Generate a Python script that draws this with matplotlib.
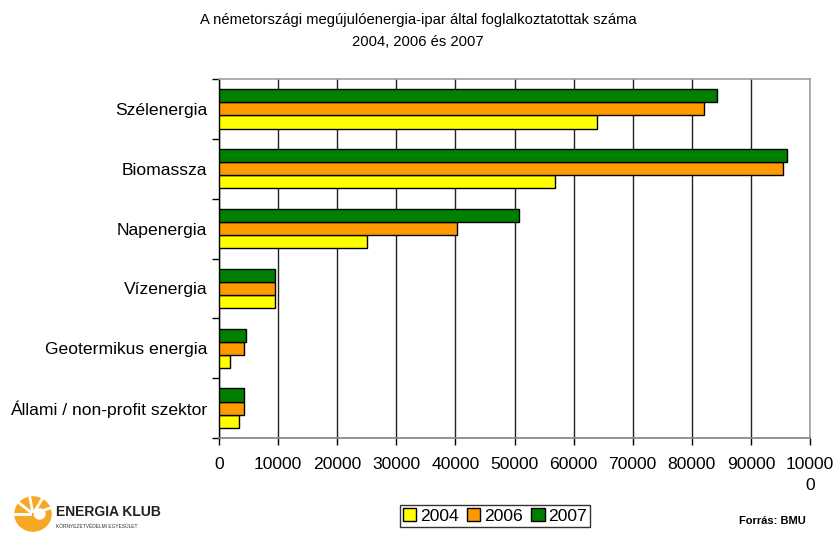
import matplotlib
matplotlib.use("Agg")
import matplotlib.pyplot as plt
import numpy as np
from matplotlib.patches import Circle

plt.rcParams['font.family'] = ['Liberation Sans', 'DejaVu Sans']

categories = ["Szélenergia", "Biomassza", "Napenergia", "Vízenergia",
              "Geotermikus energia", "Állami / non-profit szektor"]
v2004 = [63900, 56800, 25100, 9500, 1800, 3400]
v2006 = [82100, 95400, 40200, 9400, 4200, 4300]
v2007 = [84300, 96100, 50700, 9400, 4500, 4300]
xticks = list(range(0, 100001, 10000))
xticklabels = [str(t) for t in xticks[:-1]] + ["10000\n0"]
series = [("2004", v2004, "#FFFF00"), ("2006", v2006, "#FF9900"), ("2007", v2007, "#008000")]

fig = plt.figure(figsize=(8.36, 5.33), dpi=100)
ax = fig.add_axes([219/836, 1-438/533, (810-219)/836, (438-79)/533])

h = 0.22
y = np.arange(len(categories))
offsets = {"2004": h, "2006": 0.0, "2007": -h}
for name, vals, col in series:
    ax.barh(y + offsets[name], vals, height=h, color=col, edgecolor="black",
            linewidth=1.0, label=name, zorder=3)

ax.set_xlim(0, 100000)
ax.set_ylim(len(categories) - 0.5, -0.5)
ax.set_xticks(xticks)
ax.set_xticklabels(xticklabels, fontsize=12.6, linespacing=1.5)
ax.set_yticks(y)
ax.set_yticklabels(categories, fontsize=12.6)
ax.set_yticks(np.arange(-0.5, len(categories) + 0.5, 1), minor=True)
ax.tick_params(axis='y', which='major', length=0, pad=8.5)
ax.tick_params(axis='y', which='minor', length=5, width=1, color="black", direction='out')
ax.tick_params(axis='x', which='major', length=5, width=1, direction='out', pad=9)
ax.xaxis.grid(True, color="#222222", linewidth=1.0, zorder=0)
ax.set_axisbelow(True)
for s in ["top", "right"]:
    ax.spines[s].set_color("#A0A0A0")
    ax.spines[s].set_linewidth(1.2)
ax.spines["bottom"].set_color("#808080")
ax.spines["bottom"].set_linewidth(1.2)
ax.spines["left"].set_color("black")
ax.spines["left"].set_linewidth(1.0)

fig.text(0.5, 1-20/533, "A németországi megújulóenergia-ipar által foglalkoztatottak száma",
         ha="center", va="center", fontsize=10.6)
fig.text(0.5, 1-42/533, "2004, 2006 és 2007", ha="center", va="center", fontsize=10.6)

leg = fig.legend(loc="center", bbox_to_anchor=(495/836, 1-516/533), ncol=3, fontsize=12.6,
                 frameon=True, fancybox=False, edgecolor="black", handlelength=0.75,
                 handleheight=0.75, handletextpad=0.2, columnspacing=0.5,
                 borderpad=0.2, borderaxespad=0)
leg.get_frame().set_linewidth(1.0)

fig.text(806/836, 1-521/533, "Forrás: BMU", ha="right", va="center", fontsize=8, fontweight="bold")

# logo
lax = fig.add_axes([14/836, 1-532/533, 38/836, 36/533])
lax.set_xlim(-1, 1); lax.set_ylim(-1, 1); lax.axis("off")
lax.add_patch(Circle((0, 0), 0.95, color="#F7A823"))
for ang in [20, 60, 100, 140, 180]:
    a = np.deg2rad(ang)
    lax.plot([0.15*np.cos(a), 1.0*np.cos(a)], [0.15*np.sin(a), 1.0*np.sin(a)], color="white", lw=2)
lax.add_patch(Circle((0.35, 0), 0.28, color="white"))
fig.text(56/836, 1-512/533, "ENERGIA KLUB", ha="left", va="center", fontsize=10,
         fontweight="bold", color="#222222")
fig.text(56/836, 1-527/533, "KÖRNYEZETVÉDELMI EGYESÜLET", ha="left", va="center",
         fontsize=3.5, color="#333333")

fig.savefig("out.png", dpi=100)
